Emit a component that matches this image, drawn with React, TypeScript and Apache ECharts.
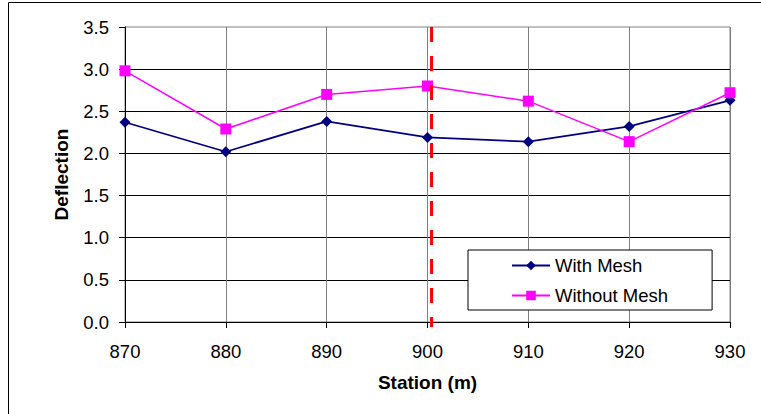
import React, { useEffect, useRef } from "react";
import * as echarts from "echarts";

const stations = [870, 880, 890, 900, 910, 920, 930];
const withMesh = [2.37, 2.02, 2.38, 2.19, 2.14, 2.32, 2.63];
const withoutMesh = [2.98, 2.29, 2.7, 2.8, 2.62, 2.14, 2.72];
const markerStation = 900.4;
const markerRange = [3.5, -0.06];
const yTicks = [0, 0.5, 1, 1.5, 2, 2.5, 3, 3.5];

export default function App() {
  const ref = useRef<HTMLDivElement>(null);
  useEffect(() => {
    const chart = echarts.init(ref.current!, null, { renderer: "svg" });
    const font = "'Liberation Sans', Arial, sans-serif";
    chart.setOption({
      animation: false,
      backgroundColor: "#ffffff",
      textStyle: { fontFamily: font, color: "#000" },
      grid: {
        left: 125,
        top: 27,
        width: 605,
        height: 295,
        show: true,
        borderColor: "#808080",
        borderWidth: 1,
        backgroundColor: "transparent",
      },
      graphic: [
        {
          type: "rect",
          shape: { x: 8.5, y: 2.5, width: 800, height: 450 },
          style: { fill: "none", stroke: "#000", lineWidth: 1 },
          silent: true,
          z: -1,
        },
      ],
      legend: {
        left: 468,
        top: 250,
        orient: "vertical",
        backgroundColor: "#fff",
        borderColor: "#000",
        borderWidth: 1,
        padding: [6, 44, 5, 43],
        itemGap: 11,
        itemWidth: 38,
        itemHeight: 12,
        textStyle: { fontFamily: font, fontSize: 18.5, color: "#000" },
        data: ["With Mesh", "Without Mesh"],
      },
      xAxis: {
        type: "value",
        min: 870,
        max: 930,
        interval: 10,
        name: "Station (m)",
        nameLocation: "middle",
        nameGap: 51,
        nameTextStyle: { fontFamily: font, fontSize: 19, fontWeight: "bold", color: "#000" },
        axisLine: { show: true, lineStyle: { color: "#000", width: 1 } },
        axisTick: { show: true, length: 6, lineStyle: { color: "#000" } },
        axisLabel: { fontFamily: font, fontSize: 18.5, color: "#000", margin: 20 },
        splitLine: { show: true, lineStyle: { color: "#808080", width: 1 } },
      },
      yAxis: {
        type: "value",
        min: 0,
        max: 3.5,
        interval: 0.5,
        name: "Deflection",
        nameLocation: "middle",
        nameRotate: 90,
        nameGap: 54,
        nameTextStyle: { fontFamily: font, fontSize: 19, fontWeight: "bold", color: "#000" },
        axisLine: { show: true, lineStyle: { color: "#000", width: 1 } },
        axisTick: { show: true, length: 6, lineStyle: { color: "#000" } },
        axisLabel: {
          fontFamily: font,
          fontSize: 18.5,
          color: "#000",
          margin: 16,
          formatter: (v: number) => (yTicks.includes(v) ? v.toFixed(1) : ""),
        },
        splitLine: { show: true, showMaxLine: false, lineStyle: { color: "#000", width: 1 } },
      },
      series: [
        {
          name: "With Mesh",
          type: "line",
          data: stations.map((s, i) => [s, withMesh[i]]),
          symbol: "diamond",
          symbolSize: 11,
          itemStyle: { color: "#000080" },
          lineStyle: { color: "#000080", width: 1.8 },
          clip: false,
          z: 3,
        },
        {
          name: "Without Mesh",
          type: "line",
          data: stations.map((s, i) => [s, withoutMesh[i]]),
          symbol: "rect",
          symbolSize: 11,
          itemStyle: { color: "#FF00FF" },
          lineStyle: { color: "#FF00FF", width: 1.5 },
          clip: false,
          z: 4,
        },
        {
          name: "marker",
          type: "line",
          data: markerRange.map((y) => [markerStation, y]),
          symbol: "none",
          lineStyle: { color: "#FF0000", width: 3, type: [15, 14] },
          clip: false,
          z: 5,
          silent: true,
        },
      ],
    });
    return () => chart.dispose();
  }, []);
  return (
    <div
      ref={ref}
      style={{ position: "fixed", left: 0, top: 0, width: 761, height: 414 }}
    />
  );
}
